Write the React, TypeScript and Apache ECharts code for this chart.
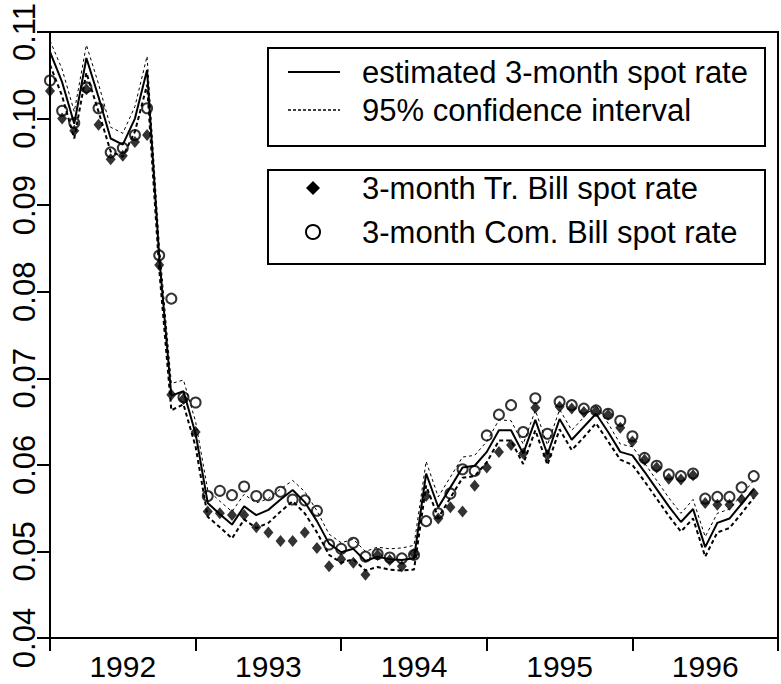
import React, { useEffect, useRef } from "react";
import * as echarts from "echarts";

// Monthly observations, January 1992 onwards
const startYear = 1992;

// Estimated 3-month spot rate
const estimated = [
  0.1077, 0.1042, 0.0994, 0.1070, 0.1025, 0.0977, 0.0970, 0.1000, 0.1056, 0.0841,
  0.0680, 0.0685, 0.0636, 0.0556, 0.0543, 0.0531, 0.0552, 0.0542, 0.0548, 0.0560,
  0.0571, 0.0557, 0.0535, 0.0509, 0.0499, 0.0503, 0.0489, 0.0494, 0.0491, 0.0490,
  0.0492, 0.0590, 0.0551, 0.0574, 0.0597, 0.0599, 0.0615, 0.0640, 0.0640, 0.0613,
  0.0652, 0.0612, 0.0653, 0.0629, 0.0644, 0.0659, 0.0638, 0.0615, 0.0611, 0.0592,
  0.0572, 0.0552, 0.0534, 0.0549, 0.0505, 0.0533, 0.0538, 0.0555, 0.0572,
];

// 95% confidence band
const upperBand = [
  0.1090, 0.1057, 0.1008, 0.1085, 0.1040, 0.0990, 0.0983, 0.1014, 0.1072, 0.0856,
  0.0694, 0.0698, 0.0650, 0.0571, 0.0558, 0.0546, 0.0566, 0.0556, 0.0561, 0.0572,
  0.0582, 0.0569, 0.0547, 0.0520, 0.0510, 0.0514, 0.0500, 0.0505, 0.0503, 0.0504,
  0.0507, 0.0604, 0.0563, 0.0586, 0.0609, 0.0611, 0.0627, 0.0652, 0.0651, 0.0624,
  0.0663, 0.0623, 0.0664, 0.0640, 0.0655, 0.0669, 0.0648, 0.0624, 0.0621, 0.0602,
  0.0582, 0.0562, 0.0544, 0.0560, 0.0517, 0.0544, 0.0549, 0.0565, 0.0582,
];
const lowerBand = [
  0.1062, 0.1026, 0.0977, 0.1053, 0.1008, 0.0962, 0.0956, 0.0985, 0.1039, 0.0826,
  0.0663, 0.0670, 0.0621, 0.0540, 0.0528, 0.0515, 0.0537, 0.0527, 0.0533, 0.0546,
  0.0558, 0.0544, 0.0522, 0.0496, 0.0487, 0.0491, 0.0478, 0.0482, 0.0479, 0.0478,
  0.0479, 0.0576, 0.0539, 0.0562, 0.0585, 0.0587, 0.0603, 0.0628, 0.0628, 0.0601,
  0.0640, 0.0600, 0.0641, 0.0617, 0.0632, 0.0648, 0.0627, 0.0606, 0.0600, 0.0581,
  0.0561, 0.0541, 0.0523, 0.0538, 0.0494, 0.0522, 0.0527, 0.0544, 0.0562,
];

// 3-month Treasury Bill spot rate
const treasuryBill = [
  0.1032, 0.1000, 0.0986, 0.1034, 0.0993, 0.0953, 0.0957, 0.0973, 0.0981, 0.0831,
  0.0681, 0.0676, 0.0638, 0.0546, 0.0544, 0.0542, 0.0542, 0.0528, 0.0522, 0.0512,
  0.0512, 0.0522, 0.0504, 0.0483, 0.0491, 0.0487, 0.0473, 0.0496, 0.0490, 0.0483,
  0.0497, 0.0564, 0.0538, 0.0551, 0.0546, 0.0576, 0.0597, 0.0615, 0.0623, 0.0613,
  0.0666, 0.0611, 0.0667, 0.0665, 0.0661, 0.0662, 0.0658, 0.0643, 0.0627, 0.0606,
  0.0597, 0.0584, 0.0583, 0.0588, 0.0556, 0.0554, 0.0554, 0.0560, 0.0567,
];

// 3-month Commercial Bill spot rate
const commercialBill = [
  0.1044, 0.1009, 0.0995, 0.1036, 0.1012, 0.0961, 0.0966, 0.0981, 0.1012, 0.0842,
  0.0792, 0.0678, 0.0672, 0.0564, 0.0570, 0.0565, 0.0575, 0.0564, 0.0565, 0.0569,
  0.0560, 0.0559, 0.0547, 0.0508, 0.0503, 0.0510, 0.0494, 0.0497, 0.0493, 0.0492,
  0.0496, 0.0535, 0.0544, 0.0567, 0.0595, 0.0593, 0.0634, 0.0658, 0.0669, 0.0638,
  0.0677, 0.0636, 0.0673, 0.0669, 0.0665, 0.0663, 0.0659, 0.0651, 0.0633, 0.0608,
  0.0599, 0.0589, 0.0587, 0.0590, 0.0561, 0.0563, 0.0563, 0.0574, 0.0587,
];

const legendLines = ["estimated 3-month spot rate", "95% confidence interval"];
const legendMarks = ["3-month Tr. Bill spot rate", "3-month Com. Bill spot rate"];

const FONT = '"Liberation Sans", Arial, Helvetica, sans-serif';

const toPairs = (vals: number[]) => vals.map((v, i) => [startYear + i / 12, v]);

export default function App() {
  const ref = useRef<HTMLDivElement>(null);

  useEffect(() => {
    if (!ref.current) return;
    const chart = echarts.init(ref.current, undefined, { renderer: "svg" });

    const legendFont = `31px ${FONT}`;
    const textStyle = (text: string, x: number, y: number) => ({
      type: "text",
      style: { text, x, y, font: legendFont, fill: "#000", verticalAlign: "middle", align: "left" },
    });

    chart.setOption({
      animation: false,
      backgroundColor: "#fff",
      grid: {
        left: 50,
        right: 2,
        top: 30,
        bottom: 46,
        show: true,
        borderColor: "#000",
        borderWidth: 2,
        containLabel: false,
      },
      xAxis: [
        {
          type: "value",
          min: 1992,
          max: 1997,
          interval: 1,
          position: "bottom",
          axisLine: { show: true, onZero: false, lineStyle: { color: "#000", width: 2 } },
          axisTick: { show: true, length: 13, lineStyle: { color: "#000", width: 2 } },
          axisLabel: { show: false },
          splitLine: { show: false },
        },
        {
          type: "value",
          min: 1992,
          max: 1997,
          interval: 0.5,
          position: "bottom",
          offset: 0,
          axisLine: { show: false },
          axisTick: { show: false },
          splitLine: { show: false },
          axisLabel: {
            show: true,
            margin: 13,
            color: "#000",
            fontFamily: FONT,
            fontSize: 30,
            formatter: (v: number) =>
              Math.abs(v - Math.floor(v) - 0.5) < 1e-6 ? String(Math.floor(v)) : "",
          },
        },
      ],
      yAxis: {
        type: "value",
        min: 0.04,
        max: 0.11,
        interval: 0.01,
        axisLine: { show: true, onZero: false, lineStyle: { color: "#000", width: 2 } },
        axisTick: { show: true, length: 13, lineStyle: { color: "#000", width: 2 } },
        splitLine: { show: false },
        axisLabel: {
          rotate: 90,
          margin: 10,
          color: "#000",
          fontFamily: FONT,
          fontSize: 31,
          formatter: (v: number) => v.toFixed(2),
        },
      },
      series: [
        {
          name: "upper",
          type: "line",
          data: toPairs(upperBand),
          symbol: "none",
          lineStyle: { color: "#000", width: 1, type: [3, 3] },
          z: 2,
        },
        {
          name: "lower",
          type: "line",
          data: toPairs(lowerBand),
          symbol: "none",
          lineStyle: { color: "#000", width: 2, type: [4, 3] },
          z: 2,
        },
        {
          name: "estimated",
          type: "line",
          data: toPairs(estimated),
          symbol: "none",
          lineStyle: { color: "#000", width: 2 },
          z: 3,
        },
        {
          name: "treasury",
          type: "scatter",
          data: toPairs(treasuryBill),
          symbol: "diamond",
          symbolSize: [10, 12],
          itemStyle: { color: "#000" },
          z: 4,
        },
        {
          name: "commercial",
          type: "scatter",
          data: toPairs(commercialBill),
          symbol: "circle",
          symbolSize: 10,
          itemStyle: { color: "rgba(0,0,0,0)", borderColor: "#000", borderWidth: 2 },
          z: 5,
        },
      ],
      graphic: [
        {
          type: "rect",
          shape: { x: 268, y: 48, width: 497, height: 98 },
          style: { fill: "none", stroke: "#000", lineWidth: 2 },
        },
        {
          type: "line",
          shape: { x1: 288, y1: 72, x2: 340, y2: 72 },
          style: { stroke: "#000", lineWidth: 2 },
        },
        textStyle(legendLines[0], 362, 72),
        {
          type: "line",
          shape: { x1: 288, y1: 110, x2: 340, y2: 110 },
          style: { stroke: "#000", lineWidth: 1.5, lineDash: [3, 2] },
        },
        textStyle(legendLines[1], 362, 110),
        {
          type: "rect",
          shape: { x: 268, y: 170, width: 497, height: 94 },
          style: { fill: "none", stroke: "#000", lineWidth: 2 },
        },
        {
          type: "polygon",
          shape: { points: [[313, 181], [320, 188], [313, 195], [306, 188]] },
          style: { fill: "#000" },
        },
        textStyle(legendMarks[0], 362, 188),
        {
          type: "circle",
          shape: { cx: 313, cy: 232, r: 7 },
          style: { fill: "none", stroke: "#000", lineWidth: 2 },
        },
        textStyle(legendMarks[1], 362, 232),
      ],
    });

    return () => chart.dispose();
  }, []);

  return (
    <div
      ref={ref}
      style={{ position: "fixed", left: 0, top: 0, width: 781, height: 684, background: "#fff" }}
    />
  );
}
